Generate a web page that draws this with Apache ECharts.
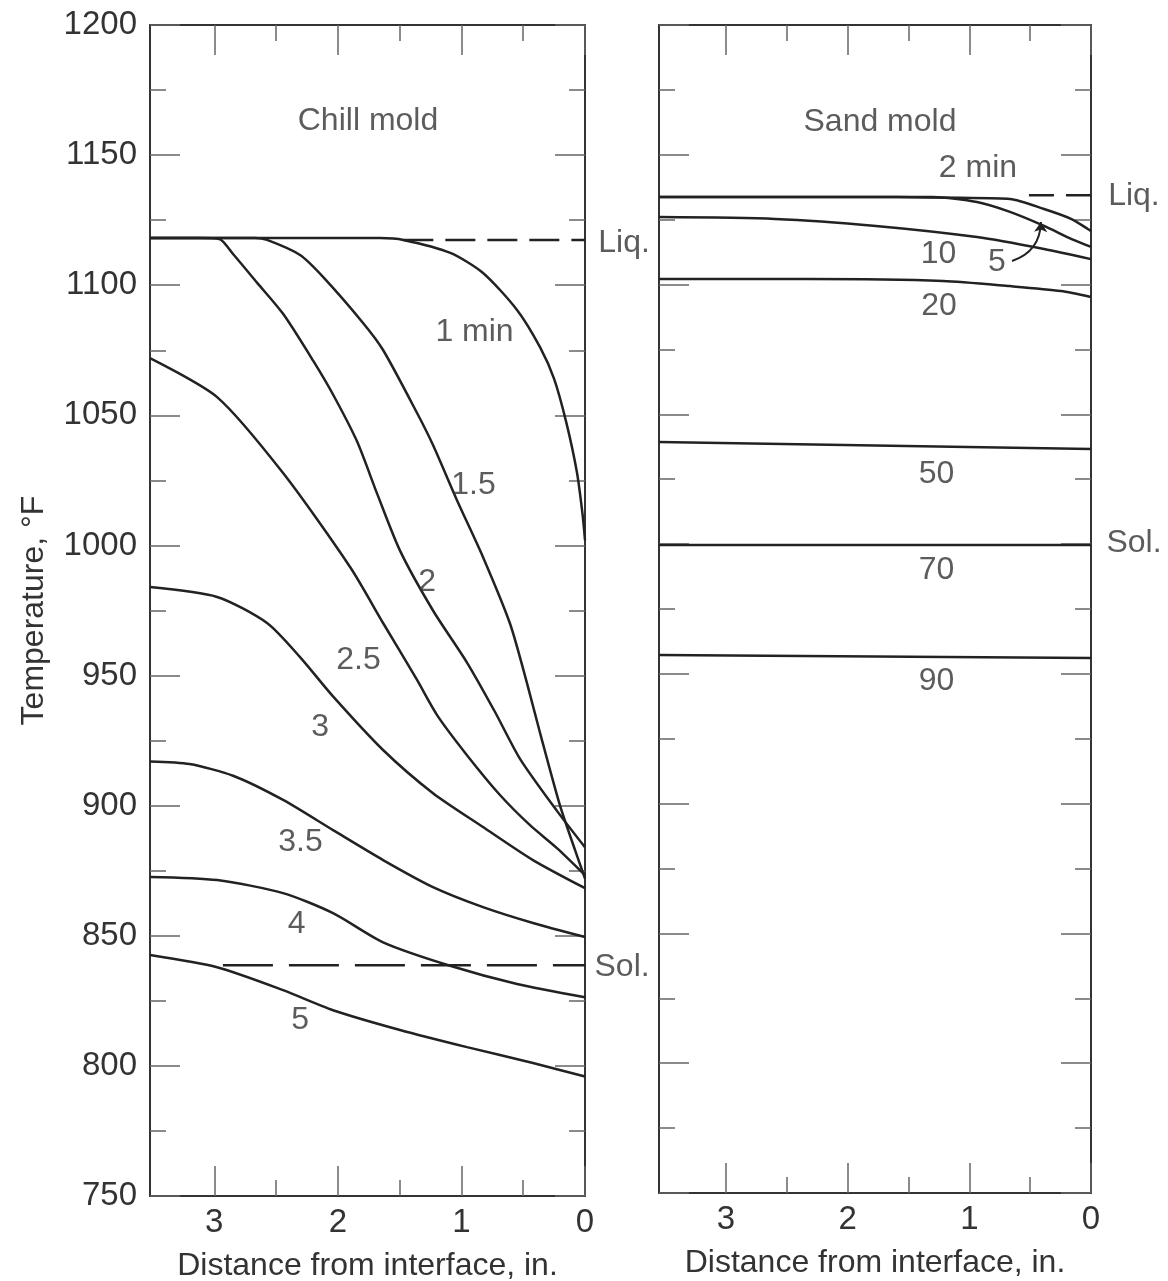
<!DOCTYPE html>
<html>
<head>
<meta charset="utf-8">
<script src="https://cdn.jsdelivr.net/npm/echarts@6/dist/echarts.min.js"></script>
<style>
  html, body { margin: 0; padding: 0; background: #fff; }
  #chart { width: 1168px; height: 1281px; }
</style>
</head>
<body>
<div id="chart"></div>
<script>
// ---------- DATA ----------
// Chill mold: [distance from interface (in.), temperature (°F)]
const chill_1min = [[3.52,1118.1],[1.66,1118.1],[1.47,1117.4],[1.09,1112.4],[0.825,1104.7],[0.55,1090.5],[0.364,1076.2],[0.25,1064],[0.15,1047],[0.065,1028],[0.02,1012],[0,1002]];
const chill_1_5 = [[3.52,1118.1],[2.67,1118.1],[2.573,1117.4],[2.306,1111.6],[2.12,1103.2],[1.796,1085.5],[1.634,1075.1],[1.359,1050.9],[1.23,1038.6],[1.036,1017.4],[0.825,995.5],[0.607,970],[0.469,947],[0.364,928],[0.202,900],[0.081,883],[0,872]];
const chill_2 = [[3.52,1118.1],[3.115,1118.1],[2.96,1117.8],[2.848,1112],[2.654,1101],[2.443,1089],[2.2,1071],[2.039,1058],[1.845,1040],[1.683,1020],[1.497,998],[1.23,975],[0.955,955],[0.728,936],[0.526,918],[0.227,898],[0,884]];
const chill_2_5 = [[3.52,1072.0],[2.977,1057.0],[2.443,1027.8],[1.901,991.7],[1.634,970.2],[1.359,948.3],[1.197,934.8],[0.955,919.4],[0.688,904.1],[0.445,892.5],[0.227,883.7],[0,873.3]];
const chill_3 = [[3.52,984.0],[2.977,980.2],[2.573,970.2],[2.306,957.1],[2.039,942],[1.634,921.4],[1.23,904.8],[0.825,891.8],[0.421,879.1],[0,868.3]];
const chill_3_5 = [[3.52,917],[3.2,916],[2.848,911.5],[2.443,902.2],[2.039,890.6],[1.634,879.1],[1.23,868.7],[0.825,861.0],[0.421,854.9],[0,849.5]];
const chill_4 = [[3.52,872.6],[2.977,871.4],[2.443,866.4],[2.039,858.7],[1.634,847.5],[1.092,838.5],[0.55,831.5],[0,826.4]];
const chill_5 = [[3.52,842.6],[2.977,837.9],[2.443,829.1],[2.039,821.4],[1.497,813.8],[0.955,807.2],[0.421,801.1],[0,795.9]];
const chill_liq = [[1.47,1117.4],[0,1117.4]];
const chill_sol = [[2.93,838.7],[0,838.7]];

// Sand mold
const sand_2 = [[3.55,1133.7],[1.6,1133.7],[1.077,1133.4],[0.666,1133.0],[0.386,1129.1],[0.164,1125.3],[0,1120.6]];
const sand_5 = [[3.55,1133.7],[1.3,1133.7],[0.937,1131.8],[0.666,1128.0],[0.386,1122.6],[0.164,1117.6],[0,1114.5]];
const sand_10 = [[3.55,1126.0],[2.597,1125.3],[1.767,1122.6],[0.937,1118.3],[0.386,1113.7],[0,1109.8]];
const sand_20 = [[3.55,1102.1],[2.326,1102.1],[1.216,1101.4],[0.666,1099.4],[0.247,1097.5],[0,1095.2]];
const sand_50 = [[3.55,1039.3],[0,1036.6]];
const sand_70 = [[3.55,999.7],[0,999.7]];
const sand_90 = [[3.55,957.3],[0,956.1]];
const sand_liq = [[0.51,1134.4],[0,1134.4]];
const sand_arrow = [[0.649,1109.1],[0.411,1124.1]];

// Annotation texts: [text, distance, temperature]
const chill_labels = [["Chill mold",1.756,1162.9],["1 min",0.894,1081.8],["1.5",0.902,1023.0],["2",1.278,985.7],["2.5",1.833,956.1],["3",2.144,930.0],["3.5",2.302,886.0],["4",2.334,854.3],["5",2.306,817.4],["Liq.",-0.316,1116.0],["Sol.",-0.30,837.8]];
const sand_labels = [["Sand mold",1.734,1162.6],["2 min",0.929,1144.9],["10",1.253,1111.8],["5",0.773,1108.5],["20",1.249,1091.7],["50",1.27,1027.0],["70",1.27,990.0],["90",1.27,947.3],["Liq.",-0.353,1134.1],["Sol.",-0.353,1000.4]];

// Axis ticks
const xMajorTicks = [0,1,2,3];
const xMinorTicks = [0.5,1.5,2.5];
const xTitle = "Distance from interface, in.";
const yTitle = "Temperature, °F";

// ---------- STYLE ----------
const FONT = "Liberation Sans";
const TXT = "#333";
const AXC = "#333";
const TICKC = "#666";
const LINEC = "#222";

function xAxesFor(g, maxD) {
  const base = {gridIndex:g, type:'value', inverse:true, min:0, max:maxD, splitLine:{show:false}};
  return [
    Object.assign({}, base, {position:'bottom',
      axisLine:{show:true,onZero:false,lineStyle:{color:AXC,width:2}},
      axisTick:{inside:true,length:30,customValues:xMajorTicks,lineStyle:{color:TICKC,width:1.5}},
      axisLabel:{customValues:xMajorTicks,margin:10,fontSize:33,color:TXT,fontFamily:FONT},
      name:xTitle,nameLocation:'middle',nameGap:54,
      nameTextStyle:{fontSize:32,color:TXT,fontFamily:FONT}}),
    Object.assign({}, base, {position:'bottom',
      axisLine:{show:false},
      axisTick:{inside:true,length:16,customValues:xMinorTicks,lineStyle:{color:TICKC,width:1.5}},
      axisLabel:{show:false}}),
    Object.assign({}, base, {position:'top',
      axisLine:{show:true,onZero:false,lineStyle:{color:AXC,width:2}},
      axisTick:{inside:true,length:30,customValues:xMajorTicks,lineStyle:{color:TICKC,width:1.5}},
      axisLabel:{show:false}}),
    Object.assign({}, base, {position:'top',
      axisLine:{show:false},
      axisTick:{inside:true,length:16,customValues:xMinorTicks,lineStyle:{color:TICKC,width:1.5}},
      axisLabel:{show:false}})
  ];
}
function yAxesFor(g, labels) {
  const base = {gridIndex:g, type:'value', min:750, max:1200, interval:50,
    splitLine:{show:false}, minorSplitLine:{show:false},
    axisLine:{show:true,onZero:false,lineStyle:{color:AXC,width:2}},
    axisTick:{inside:true,length:30,lineStyle:{color:TICKC,width:1.5}},
    minorTick:{show:true,splitNumber:2,length:16,lineStyle:{color:TICKC,width:1.5}}};
  return [
    Object.assign({}, base, {position:'left',
      axisLabel:{show:labels,margin:13,fontSize:33,color:TXT,fontFamily:FONT,formatter: v => String(v)},
      name: labels ? yTitle : '', nameLocation:'middle', nameGap:100, nameRotate:90,
      nameTextStyle:{fontSize:32,color:TXT,fontFamily:FONT}}),
    Object.assign({}, base, {position:'right', axisLabel:{show:false}})
  ];
}

function curve(data, xi, yi, dash) {
  return {type:'line', data:data, xAxisIndex:xi, yAxisIndex:yi, showSymbol:false, symbol:'none',
    smooth: dash ? false : 0.25, silent:true, z:3,
    lineStyle:{color:LINEC, width:2.5, type: dash || 'solid'}};
}
function labelSeries(items, xi, yi) {
  return {type:'scatter', xAxisIndex:xi, yAxisIndex:yi, clip:false, silent:true, z:5,
    symbolSize:1, itemStyle:{color:'rgba(0,0,0,0)'},
    data: items.map(it => ({name: it[0], value: [it[1], it[2]]})),
    label:{show:true, position:'inside', formatter:'{b}', fontSize:32, color:TXT, fontFamily:FONT}};
}

const chart = echarts.init(document.getElementById('chart'), null, {renderer:'canvas'});
const option = {
  backgroundColor:'#ffffff',
  animation:false,
  grid:[
    {left:150, top:25, width:435, height:1171, containLabel:false, outerBoundsMode:'none'},
    {left:659, top:25, width:432, height:1168, containLabel:false, outerBoundsMode:'none'}
  ],
  xAxis: xAxesFor(0, 3.52).concat(xAxesFor(1, 3.55)),
  yAxis: yAxesFor(0, true).concat(yAxesFor(1, false)),
  series: [
    curve(chill_1min,0,0), curve(chill_1_5,0,0), curve(chill_2,0,0), curve(chill_2_5,0,0),
    curve(chill_3,0,0), curve(chill_3_5,0,0), curve(chill_4,0,0), curve(chill_5,0,0),
    curve(chill_liq,0,0,[30,12]), curve(chill_sol,0,0,[50,16]),
    labelSeries(chill_labels,0,0),
    curve(sand_2,4,2), curve(sand_5,4,2), curve(sand_10,4,2), curve(sand_20,4,2),
    curve(sand_50,4,2), curve(sand_70,4,2), curve(sand_90,4,2),
    curve(sand_liq,4,2,[25,12]),
    {type:'lines', coordinateSystem:'cartesian2d', xAxisIndex:4, yAxisIndex:2, silent:true, z:4,
      symbol:['none','arrow'], symbolSize:10,
      lineStyle:{color:LINEC, width:2, opacity:1, curveness:-0.35},
      data:[{coords: sand_arrow}]},
    labelSeries(sand_labels,4,2)
  ]
};
chart.setOption(option);
</script>
</body>
</html>
